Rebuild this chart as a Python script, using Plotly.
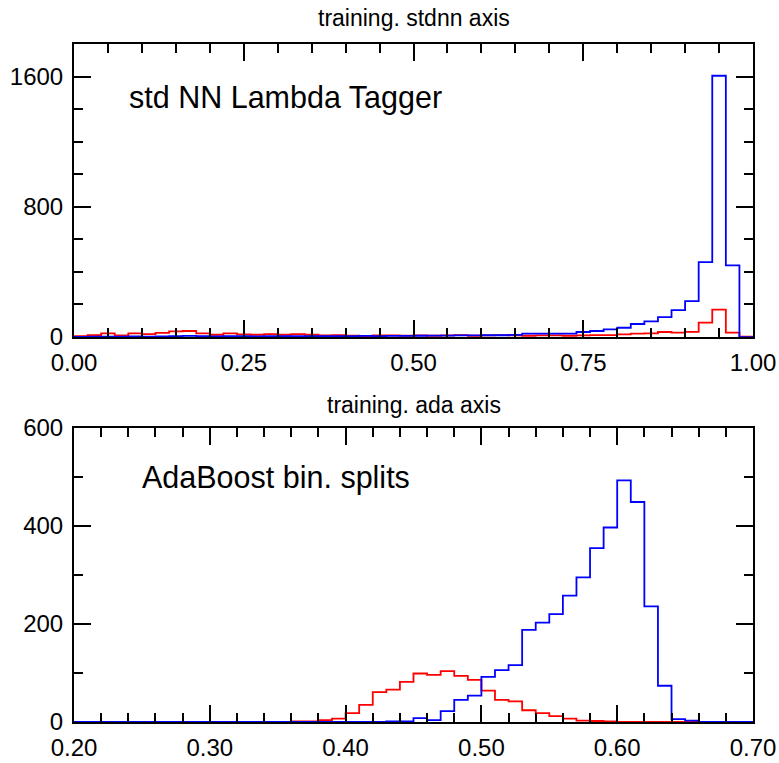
import numpy as np
import plotly.graph_objects as go
from plotly.subplots import make_subplots

# ---- data: top panel (std NN), 50 bins of width 0.02 from 0 to 1
top_bin_start = 0.0
top_bin_width = 0.02
top_blue = [1, 2, 3, 2, 4, 3, 4, 5, 7, 5,
            4, 6, 5, 4, 6, 5, 6, 5, 6, 5,
            6, 7, 6, 7, 7, 8, 9, 9, 10, 10,
            11, 11, 13, 21, 21, 21, 21, 31, 37, 47,
            57, 80, 96, 122, 165, 221, 460, 1605, 440, 0]
top_red = [6, 12, 22, 10, 22, 18, 25, 35, 37, 22,
           14, 22, 16, 14, 18, 14, 18, 14, 10, 12,
           8, 6, 10, 10, 8, 10, 8, 10, 12, 8,
           10, 12, 10, 8, 10, 10, 8, 10, 12, 12,
           16, 21, 23, 31, 27, 32, 88, 168, 27, 3]

# ---- data: bottom panel (AdaBoost), 50 bins of width 0.01 from 0.2 to 0.7
bot_bin_start = 0.2
bot_bin_width = 0.01
bot_blue = [0, 0, 0, 0, 0, 0, 0, 0, 0, 0,
            0, 0, 0, 0, 0, 0, 0, 0, 0, 0,
            0, 0, 0, 1, 1, 8, 4, 22, 45, 54,
            92, 106, 116, 188, 203, 220, 258, 295, 355, 397,
            493, 449, 236, 74, 6, 3, 0, 0, 0, 0]
bot_red = [0, 0, 0, 0, 0, 0, 0, 0, 0, 0,
           0, 0, 0, 0, 0, 0, 1, 1, 4, 7,
           18, 35, 61, 66, 82, 99, 96, 104, 94, 86,
           64, 45, 42, 24, 18, 12, 7, 3, 2, 1,
           0, 0, 0, 0, 0, 0, 0, 0, 0, 0]

top_title = "training. stdnn axis"
bot_title = "training. ada axis"
top_label = "std NN Lambda Tagger"
bot_label = "AdaBoost bin. splits"


def step_xy(start, width, counts):
    edges = start + width * np.arange(len(counts) + 1)
    ys = list(counts) + [counts[-1]]
    return edges, ys


FONT = "Liberation Sans, Arial, sans-serif"

fig = make_subplots(rows=2, cols=1, vertical_spacing=0.1342)
fig.update_layout(
    yaxis=dict(domain=[0.5678, 1.0]),
    yaxis2=dict(domain=[0.0, 0.4336]),
)

for (start, width, counts, color, row) in [
    (top_bin_start, top_bin_width, top_red, "#ff0000", 1),
    (top_bin_start, top_bin_width, top_blue, "#0000ff", 1),
    (bot_bin_start, bot_bin_width, bot_red, "#ff0000", 2),
    (bot_bin_start, bot_bin_width, bot_blue, "#0000ff", 2),
]:
    xs, ys = step_xy(start, width, counts)
    fig.add_trace(go.Scatter(x=xs, y=ys, mode="lines", line_shape="hv",
                             line=dict(color=color, width=1.8),
                             showlegend=False, hoverinfo="skip"),
                  row=row, col=1)

axis_common = dict(showline=True, linecolor="black", linewidth=2, mirror="allticks",
                   ticks="inside", ticklen=17, tickwidth=1.5, tickcolor="black",
                   showgrid=False, zeroline=False, automargin=False,
                   tickfont=dict(family=FONT, size=24, color="black"))

fig.update_xaxes(axis_common)
fig.update_yaxes(axis_common)
fig.update_xaxes(ticklabelstandoff=3)
fig.update_yaxes(ticklabelstandoff=4)

fig.update_xaxes(row=1, col=1, range=[0, 1], tick0=0, dtick=0.25, tickformat=".2f",
                 minor=dict(dtick=0.05, ticks="inside", ticklen=9, tickwidth=1.5, tickcolor="black"))
fig.update_xaxes(row=2, col=1, range=[0.2, 0.7], tick0=0.2, dtick=0.1, tickformat=".2f",
                 minor=dict(dtick=0.02, ticks="inside", ticklen=9, tickwidth=1.5, tickcolor="black"))
fig.update_yaxes(row=1, col=1, range=[0, 1800], tick0=0, dtick=800,
                 minor=dict(dtick=200, ticks="inside", ticklen=9, tickwidth=1.5, tickcolor="black"))
fig.update_yaxes(row=2, col=1, range=[0, 600], tick0=0, dtick=200,
                 minor=dict(dtick=100, ticks="inside", ticklen=9, tickwidth=1.5, tickcolor="black"))

annots = [
    dict(text=top_title, xref="x domain", yref="y domain", x=0.5, y=1.089,
         xanchor="center", yanchor="middle", font=dict(family=FONT, size=23)),
    dict(text=bot_title, xref="x2 domain", yref="y2 domain", x=0.5, y=1.078,
         xanchor="center", yanchor="middle", font=dict(family=FONT, size=23)),
    dict(text=top_label, xref="x domain", yref="y domain", x=0.078, y=0.816,
         xanchor="left", yanchor="middle", font=dict(family=FONT, size=30.5)),
    dict(text=bot_label, xref="x2 domain", yref="y2 domain", x=0.097, y=0.83,
         xanchor="left", yanchor="middle", font=dict(family=FONT, size=30.5)),
]
for a in annots:
    a.update(showarrow=False)
    a["font"]["color"] = "black"
fig.update_layout(annotations=annots)

fig.update_layout(width=779, height=763, margin=dict(l=74, r=26, t=44, b=41, autoexpand=False),
                  paper_bgcolor="white", plot_bgcolor="white",
                  font=dict(family=FONT, color="black"))

fig.write_html("out.html")
